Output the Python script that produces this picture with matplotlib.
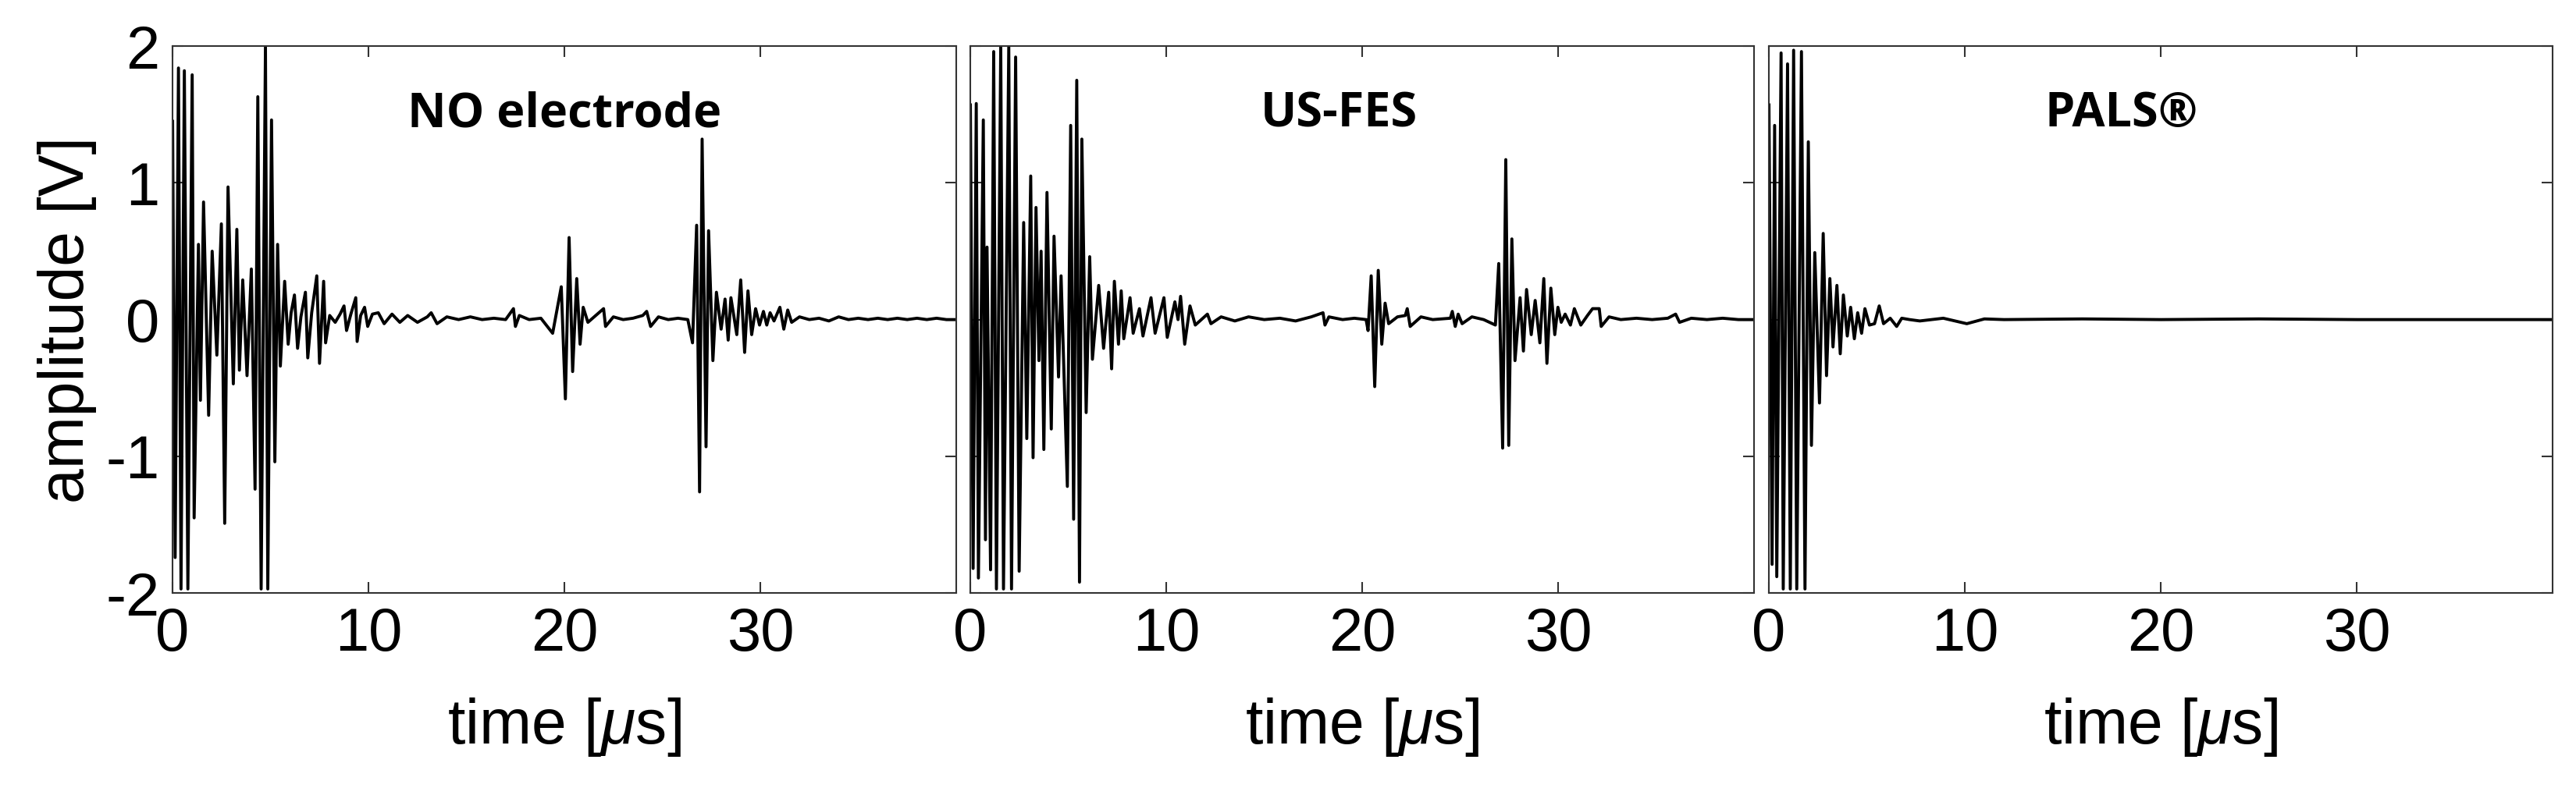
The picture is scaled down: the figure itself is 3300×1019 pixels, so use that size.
import matplotlib
matplotlib.use("Agg")
import matplotlib.pyplot as plt

plt.rcParams['font.family'] = ['Liberation Sans', 'DejaVu Sans']
plt.rcParams['mathtext.fontset'] = 'custom'
plt.rcParams['mathtext.rm'] = 'Liberation Sans'
plt.rcParams['mathtext.it'] = 'Liberation Sans:italic'
plt.rcParams['axes.unicode_minus'] = False

title_text = ["NO electrode", "US-FES", "PALS\u00ae"]
x_ticks = [0, 10, 20, 30]
y_ticks = [-2, -1, 0, 1, 2]

# Panel 1: NO electrode (time in us, amplitude in V) - extrema
t1 = [0, 0.13, 0.3, 0.43, 0.6, 0.78, 1.0, 1.1, 1.32, 1.42, 1.58, 1.84, 2.02, 2.26, 2.49, 2.66,
      2.83, 3.1, 3.28, 3.41, 3.58, 3.8, 4.02, 4.21, 4.35, 4.52, 4.74, 4.86, 5.05, 5.22, 5.36, 5.5,
      5.72, 5.9, 6.05, 6.22, 6.38, 6.55, 6.78, 6.9, 7.1, 7.36, 7.5, 7.71, 7.81, 8.02, 8.3, 8.55,
      8.75, 8.88, 9.1, 9.35, 9.42, 9.6, 9.8, 9.96, 10.2, 10.5, 10.8, 11.2, 11.6, 12.0, 12.5,
      13.0, 13.2, 13.5, 14.0, 14.6, 15.2, 15.8, 16.4, 17.0, 17.4, 17.5, 17.7, 18.2, 18.8, 19.4,
      19.84, 20.05, 20.24, 20.42, 20.63, 20.8, 20.96, 21.2, 21.6, 22.0, 22.1, 22.5, 23.0, 23.5,
      24.0, 24.2, 24.4, 24.8, 25.3, 25.8, 26.3, 26.54, 26.75, 26.9, 27.03, 27.23, 27.36, 27.58,
      27.76, 28.0, 28.2, 28.36, 28.5, 28.8, 29.0, 29.2, 29.37, 29.56, 29.76, 29.96, 30.16, 30.33,
      30.5, 30.7, 31.0, 31.2, 31.4, 31.6, 32.0, 32.5, 33.0, 33.5, 34.0, 34.5, 35.0, 35.5, 36.0,
      36.5, 37.0, 37.5, 38.0, 38.5, 39.0, 39.5, 40.0]
v1 = [1.45, -1.74, 1.84, -1.97, 1.82, -1.97, 1.79, -1.45, 0.55, -0.59, 0.86, -0.7, 0.5, -0.26, 0.7, -1.49,
      0.97, -0.47, 0.66, -0.37, 0.29, -0.41, 0.37, -1.24, 1.63, -1.97, 2.0, -1.97, 1.46, -1.04, 0.55, -0.34,
      0.28, -0.18, 0.05, 0.18, -0.21, 0.02, 0.2, -0.28, 0.05, 0.32, -0.32, 0.28, -0.17, 0.03, -0.02, 0.04,
      0.1, -0.08, 0.04, 0.16, -0.16, 0.03, 0.09, -0.05, 0.04, 0.05, -0.03, 0.04, -0.02, 0.03, -0.02,
      0.02, 0.05, -0.03, 0.02, 0.0, 0.02, 0.0, 0.01, 0.0, 0.08, -0.05, 0.03, 0.0, 0.01, -0.1,
      0.24, -0.58, 0.6, -0.38, 0.3, -0.18, 0.09, -0.02, 0.03, 0.08, -0.05, 0.02, 0.0, 0.01,
      0.03, 0.06, -0.05, 0.02, 0.0, 0.01, 0.0, -0.17, 0.69, -1.26, 1.32, -0.93, 0.65, -0.3,
      0.2, -0.07, 0.15, -0.15, 0.16, -0.11, 0.29, -0.24, 0.21, -0.11, 0.08, -0.04, 0.06, -0.04,
      0.05, -0.01, 0.09, -0.07, 0.07, -0.02, 0.02, 0.0, 0.01, -0.01, 0.02, 0.0, 0.01, 0.0, 0.01,
      0.0, 0.01, 0.0, 0.01, 0.0, 0.01, 0.0, 0.0]

# Panel 2: US-FES
t2 = [0, 0.14, 0.3, 0.41, 0.66, 0.77, 0.85, 1.03, 1.19, 1.33, 1.55, 1.69, 1.96, 2.1, 2.31, 2.49,
      2.72, 2.88, 3.08, 3.2, 3.35, 3.5, 3.61, 3.75, 3.91, 4.13, 4.27, 4.5, 4.63, 4.95, 5.12, 5.27,
      5.43, 5.57, 5.69, 5.91, 6.09, 6.23, 6.55, 6.8, 7.06, 7.21, 7.35, 7.56, 7.7, 7.83, 8.15, 8.31,
      8.63, 8.81, 9.22, 9.43, 9.88, 10.05, 10.44, 10.6, 10.73, 10.94, 11.21, 11.48, 12.1, 12.28,
      12.8, 13.5, 14.2, 15.0, 15.8, 16.6, 17.4, 18.0, 18.1, 18.3, 19.0, 19.6, 20.2, 20.3, 20.46,
      20.64, 20.82, 21.0, 21.17, 21.35, 21.8, 22.2, 22.3, 22.45, 23.0, 23.6, 24.5, 24.6, 24.75,
      24.9, 25.1, 25.6, 26.2, 26.8, 26.97, 27.17, 27.33, 27.48, 27.64, 27.8, 28.06, 28.23, 28.39,
      28.63, 28.83, 29.07, 29.27, 29.43, 29.63, 29.83, 29.99, 30.16, 30.36, 30.63, 30.83, 31.16,
      31.5, 31.76, 32.1, 32.2, 32.6, 33.2, 34.0, 34.8, 35.6, 36.0, 36.2, 36.8, 37.6, 38.4, 39.2, 40.0]
v2 = [1.57, -1.82, 1.58, -1.89, 1.46, -1.61, 0.53, -1.83, 1.96, -1.97, 2.0, -1.97, 2.0, -1.97, 1.92, -1.84,
      0.71, -0.87, 1.05, -1.01, 0.82, -0.3, 0.5, -0.95, 0.93, -0.8, 0.61, -0.42, 0.32, -1.22, 1.42, -1.46,
      1.75, -1.92, 1.32, -0.68, 0.46, -0.29, 0.25, -0.21, 0.2, -0.36, 0.28, -0.18, 0.21, -0.14, 0.16, -0.1,
      0.08, -0.12, 0.16, -0.1, 0.16, -0.13, 0.13, 0.0, 0.17, -0.18, 0.1, -0.04, 0.04, -0.03,
      0.02, -0.01, 0.02, 0.0, 0.01, -0.01, 0.02, 0.05, -0.04, 0.02, 0.0, 0.01, 0.0, -0.08, 0.32,
      -0.49, 0.36, -0.18, 0.12, -0.03, 0.02, 0.03, 0.08, -0.05, 0.02, 0.0, 0.01, 0.06, -0.05,
      0.04, -0.03, 0.02, 0.0, -0.04, 0.41, -0.94, 1.17, -0.92, 0.59, -0.3, 0.16, -0.23, 0.22,
      -0.11, 0.14, -0.17, 0.30, -0.32, 0.23, -0.11, 0.09, -0.02, 0.04, -0.04, 0.08, -0.04,
      0.03, 0.08, 0.08, -0.05, 0.02, 0.0, 0.01, 0.0, 0.01, 0.04, -0.02, 0.01, 0.0, 0.01, 0.0, 0.0]

# Panel 3: PALS
t3 = [0, 0.16, 0.29, 0.4, 0.62, 0.73, 0.95, 1.09, 1.26, 1.42, 1.66, 1.84, 2.01, 2.17, 2.34, 2.58,
      2.77, 2.94, 3.11, 3.27, 3.47, 3.64, 3.8, 4.0, 4.17, 4.36, 4.53, 4.73, 4.9, 5.13, 5.39, 5.63,
      5.85, 6.19, 6.52, 6.78, 7.18, 7.7, 8.9, 10.1, 11.0, 12.0, 16.0, 20.0, 25.0, 30.0, 35.0, 40.0]
v3 = [1.57, -1.79, 1.42, -1.88, 1.95, -1.97, 1.87, -1.97, 1.97, -1.97, 1.96, -1.97, 1.3, -0.92, 0.49, -0.61,
      0.63, -0.41, 0.3, -0.2, 0.25, -0.25, 0.18, -0.12, 0.09, -0.14, 0.05, -0.1, 0.08, -0.04, -0.03, 0.1,
      -0.03, 0.01, -0.05, 0.01, 0.0, -0.01, 0.01, -0.03, 0.005, 0.0, 0.005, 0.0, 0.005, 0.0, 0.0, 0.0]

series = [(t1, v1), (t2, v2), (t3, v3)]
title_x = [0.5, 0.47, 0.45]

fig = plt.figure(figsize=(33, 10.19), dpi=100)
lefts = [0.067, 0.3767, 0.6867]
width = 0.3042
bottom, top = 0.254, 0.942
for i, (t, v) in enumerate(series):
    ax = fig.add_axes([lefts[i], bottom, width, top - bottom])
    ax.plot(t, v, color='black', lw=2.8)
    ax.set_xlim(0, 40)
    ax.set_ylim(-2, 2)
    ax.set_xticks(x_ticks)
    ax.set_yticks(y_ticks)
    ax.tick_params(direction='in', top=True, right=True, length=10, width=1.5,
                   labelsize=56, pad=12, color='#333333')
    if i > 0:
        ax.set_yticklabels([])
    else:
        ax.set_ylabel("amplitude [V]", fontsize=58, labelpad=8)
    ax.set_xlabel("time [$\\mu$s]", fontsize=58, labelpad=30)
    for s in ax.spines.values():
        s.set_linewidth(1.5)
        s.set_color('#333333')
    ax.text(title_x[i], 0.875, title_text[i], transform=ax.transAxes, ha='center', va='center',
            fontsize=44, fontweight='bold', family=['Open Sans', 'DejaVu Sans'])

fig.savefig("out.png", dpi=100)
